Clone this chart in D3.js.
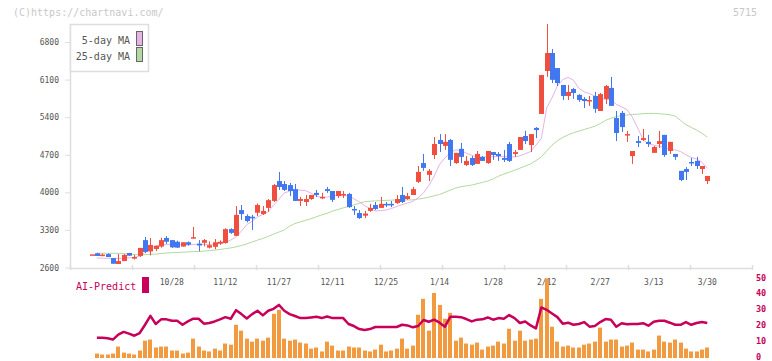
<!DOCTYPE html>
<html>
<head>
<meta charset="utf-8">
<script src="https://cdn.jsdelivr.net/npm/d3@7"></script>
<style>
  body { margin: 0; background: #fff; }
  svg { display: block; }
  text { font-family: "DejaVu Sans Mono", monospace; }
</style>
</head>
<body>
<svg width="772" height="361"></svg>
<script>
// Daily prices (yen), one entry per trading day
const OPEN = [2845,2865,2825,2850,2775,2665,2720,2870,2765,2815,3110,2900,2945,2990,3150,3110,3080,2990,3070,3145,
  3045,3060,2970,2985,3045,3055,3315,3190,3670,3560,3545,3620,3595,3710,3840,4210,4155,4135,4060,3840,
  3820,3875,3990,3895,4060,4025,3930,3950,3970,3690,3615,3565,3655,3765,3710,3785,3785,3800,3950,3875,
  3950,4195,4545,4325,4695,4975,4865,4975,4545,4810,4510,4640,4530,4660,4545,4750,4715,4640,4900,4715,
  4790,5050,4880,5200,5460,6260,6595,6315,6000,5795,5925,5815,5740,5700,5795,5515,5740,5945,5385,5480,
  5070,4675,4955,4975,4940,4735,4900,5070,4770,4715,4400,4435,4565,4585,4435,4210];
const HIGH = [2845,2875,2860,2865,2775,2850,2850,2870,2835,2965,3170,3150,3005,3155,3185,3110,3100,3070,3085,3355,
  3110,3130,3085,3130,3105,3330,3330,3745,3765,3590,3580,3795,3745,3875,4155,4380,4210,4175,4155,3915,
  3950,3950,4045,3990,4100,4025,4025,4025,3990,3745,3670,3655,3785,3820,3915,3820,3840,3950,4100,3990,
  4100,4490,4715,4435,5030,5085,5085,4995,4735,4920,4675,4675,4770,4675,4770,4750,4750,4790,4940,4790,
  5030,5145,5085,5215,6185,7135,6670,6315,6000,6000,5945,5830,5775,5795,5870,5850,6000,6150,5515,5515,
  5145,4770,5050,5180,5070,4865,5145,5070,4940,4715,4400,4470,4640,4660,4490,4305];
const LOW = [2845,2815,2810,2795,2670,2665,2720,2820,2750,2795,2870,2825,2905,2970,3040,2965,2965,2990,3005,3140,
  2900,2995,2955,2940,3020,3045,3225,3185,3485,3440,3300,3560,3580,3635,3820,4045,4025,3930,3840,3745,
  3745,3860,3915,3875,3990,3820,3895,3895,3710,3580,3505,3520,3635,3670,3710,3725,3725,3785,3800,3860,
  3950,4175,4400,4210,4620,4750,4790,4490,4530,4545,4490,4490,4530,4585,4530,4605,4585,4565,4565,4660,
  4790,4900,4750,5010,5460,6150,6035,5980,5720,5720,5740,5685,5570,5610,5480,5515,5645,5610,4955,5125,
  4940,4530,4845,4955,4845,4735,4825,4660,4715,4605,4210,4230,4490,4435,4340,4155];
const CLOSE = [2845,2815,2840,2795,2670,2720,2835,2820,2795,2965,2890,3020,3005,3110,3080,2975,2970,3070,3025,3165,
  3010,3110,3015,3070,3080,3315,3245,3580,3595,3465,3515,3765,3655,3855,4135,4100,4045,4025,3840,3875,
  3875,3950,3950,3915,4025,3860,4025,3970,3725,3670,3520,3605,3710,3690,3785,3765,3765,3875,3820,3930,
  4060,4380,4455,4400,4900,4900,4940,4605,4735,4660,4585,4510,4715,4585,4770,4695,4675,4605,4585,4750,
  5030,4955,5085,5160,6185,6595,6095,6035,5795,5870,5850,5720,5700,5720,5555,5830,5980,5610,5105,5215,
  5085,4770,4920,5010,4900,4845,4955,4695,4940,4660,4230,4380,4545,4490,4490,4305];

// Moving averages as drawn on the chart
const MA5 = [null,2775,2775,2770,2770,2770,2775,2780,2790,2810,2880,2960,3000,3020,3030,3030,3025,3025,3020,3030,
  3030,3030,3030,3035,3050,3070,3110,3170,3280,3400,3460,3540,3590,3640,3760,3870,3990,4020,4040,4040,
  4030,3985,3925,3910,3910,3930,3950,3945,3930,3880,3825,3750,3700,3655,3660,3670,3700,3735,3770,3800,
  3830,3900,3990,4130,4300,4520,4640,4740,4790,4780,4730,4690,4660,4655,4660,4665,4665,4665,4660,4660,
  4680,4720,4760,4880,5000,5570,5760,5980,6100,6140,6090,5940,5870,5840,5790,5760,5730,5730,5640,5590,
  5540,5400,5200,4980,4900,4880,4860,4830,4800,4790,4760,4700,4650,4620,4560,4450];
const MA25 = [null,2865,2865,2865,2865,2865,2860,2850,2840,2840,2840,2845,2850,2860,2870,2875,2880,2885,2890,2895,
  2900,2905,2915,2925,2935,2950,2965,2985,3010,3040,3075,3110,3140,3180,3220,3260,3300,3370,3420,3450,
  3480,3510,3545,3580,3610,3650,3680,3710,3735,3765,3795,3825,3835,3840,3845,3850,3855,3858,3858,3858,
  3860,3875,3890,3910,3935,3960,4000,4040,4080,4105,4120,4135,4160,4185,4210,4250,4300,4340,4375,4410,
  4450,4490,4530,4590,4660,4770,4880,4960,5020,5070,5110,5140,5170,5200,5230,5280,5340,5380,5410,5430,
  5440,5450,5455,5465,5470,5470,5465,5455,5445,5420,5340,5260,5210,5160,5100,5030];

// Lower panel (0-50 scale): volume bars and AI-Predict line
const VOLUME = [null,2.8,2.2,2.2,2.8,7.2,3.4,2.8,2.2,4.7,10.9,11.6,6.6,7.2,7.2,4.7,4.7,2.8,3.4,12.2,
  7.2,4.7,4.1,5.9,4.7,9.1,8.4,20.9,17.2,12.2,10.3,12.2,10.9,12.8,27.8,30.3,12.2,10.9,11.6,9.7,
  9.1,5.9,6.6,4.1,10.3,7.8,4.7,4.7,7.2,6.6,6.6,4.7,4.1,5.3,8.4,4.1,4.7,5.9,12.2,5.9,
  7.8,27.2,37.2,17.2,40.9,33.4,24.7,28.4,10.9,12.8,9.1,8.4,9.7,5.3,7.2,7.8,10.3,9.1,18.4,10.9,
  17.2,10.9,11.6,12.2,37.2,50,19.7,10.3,7.2,7.8,6.6,6.6,8.4,9.1,10.3,19.1,10.3,11.6,11.6,7.2,
  7.8,9.7,5.3,5.3,4.1,5.3,14.1,10.3,9.7,11.6,9.7,5.9,4.1,4.1,5.3,6.6];
const AI_PREDICT = [null,12.8,12.8,12.4,11.6,14.7,16.4,15.3,14.0,15.7,20.9,26.5,21.4,24.3,24.3,23.4,23.4,20.9,23.0,24.7,
  24.7,21.6,22.0,23.0,24.3,25.7,24.7,30.1,27.6,24.9,27.6,29.7,26.8,29.7,30.9,33.4,29.7,27.6,26.4,25.1,
  25.1,25.5,25.9,25.1,26.1,25.1,25.1,25.1,21.4,20.1,18.2,17.6,18.2,19.5,19.5,19.5,19.5,19.5,20.9,20.5,
  19.3,20.1,23.9,22.8,24.1,22.2,19.7,25.9,25.9,25.7,24.5,23.0,24.1,24.3,25.5,24.1,25.1,24.7,27.0,25.1,
  22.0,23.0,20.5,18.6,31.8,30.3,28.0,25.7,21.6,22.2,20.9,21.4,22.6,19.7,20.1,22.6,24.5,24.1,19.7,21.9,
  21.2,21.4,21.4,21.9,20.3,22.8,23.4,23.4,22.2,20.9,20.9,22.6,20.9,22.0,22.6,22.0];

// Axis labels
const DATE_LABELS = ["10/28","11/12","11/27","12/11","12/25","1/14","1/28","2/12","2/27","3/13","3/30"];
const DATE_INDEX = [15,25,35,45,55,65,75,85,95,105,115];
const PRICE_TICKS = [2600,3300,4000,4700,5400,6100,6800];
const SUB_TICKS = [0,10,20,30,40,50];

// Colours
const RED = "#f04f40";
const BLUE = "#4278ef";
const PINK = "#e6b3e6";
const GREEN = "#b3d9a1";
const MAGENTA = "#c8005a";
const ORANGE = "#f29a40";
const AXIS = "#dedede";

const svg = d3.select("svg");

// Scales
const x = d3.scaleLinear().domain([0, OPEN.length - 1]).range([91.5, 707.3]);
const y = d3.scaleLinear().domain([2600, 6800]).range([267.5, 42]);
const ySub = d3.scaleLinear().domain([0, 50]).range([358, 278.5]);
const xGrid = d3.scaleLinear().domain([0, 11]).range([70, 752]);

// Header texts
svg.append("text").attr("x", 13).attr("y", 15.5)
    .attr("font-size", 10).attr("fill", "#c8c8c8")
    .text("(C)https://chartnavi.com/");
svg.append("text").attr("x", 757).attr("y", 15.5)
    .attr("font-size", 10).attr("fill", "#c8c8c8").attr("text-anchor", "end")
    .text("5715");

// Left price axis
const yAxis = svg.append("g")
    .attr("transform", "translate(70,0)")
    .call(d3.axisLeft(y).tickValues(PRICE_TICKS).tickFormat(d3.format("d"))
        .tickSize(5).tickPadding(6));
yAxis.select(".domain").remove();
yAxis.selectAll("line").attr("stroke", AXIS);
yAxis.selectAll("text").attr("font-size", 8).attr("fill", "#555")
    .attr("font-family", "DejaVu Sans Mono, monospace");

svg.append("line")
    .attr("x1", 70.5).attr("x2", 70.5).attr("y1", 24).attr("y2", 268.5)
    .attr("stroke", AXIS).attr("stroke-width", 1.5);

// Bottom axis line with evenly spaced ticks
svg.append("line")
    .attr("x1", 70).attr("x2", 752).attr("y1", 268.5).attr("y2", 268.5)
    .attr("stroke", AXIS).attr("stroke-width", 1.5);
const xAxis = svg.append("g")
    .attr("transform", "translate(0,265)")
    .call(d3.axisBottom(xGrid).ticks(11).tickSize(5).tickFormat(""));
xAxis.select(".domain").remove();
xAxis.selectAll("line").attr("stroke", AXIS).attr("stroke-width", 1.5);

// Date labels under the candles
svg.append("g").selectAll("text")
    .data(DATE_LABELS)
    .join("text")
    .attr("x", (d, i) => x(DATE_INDEX[i]))
    .attr("y", 285)
    .attr("text-anchor", "middle")
    .attr("font-size", 8)
    .attr("fill", "#555")
    .text(d => d);

// Moving averages (behind candles)
const maLine = d3.line()
    .defined(d => d != null)
    .x((d, i) => x(i))
    .y(d => y(d));
svg.append("path").datum(MA25)
    .attr("fill", "none").attr("stroke", GREEN).attr("stroke-width", 1)
    .attr("d", maLine);
svg.append("path").datum(MA5)
    .attr("fill", "none").attr("stroke", PINK).attr("stroke-width", 1)
    .attr("d", maLine);

// Candles
const candles = OPEN.map((o, i) => ({ i, o, h: HIGH[i], l: LOW[i], c: CLOSE[i] }));
const colour = d => d.c >= d.o ? RED : BLUE;
const cg = svg.append("g").attr("class", "candles");
cg.selectAll("line")
    .data(candles)
    .join("line")
    .attr("x1", d => Math.round(x(d.i)) + 0.5)
    .attr("x2", d => Math.round(x(d.i)) + 0.5)
    .attr("y1", d => y(d.h))
    .attr("y2", d => y(d.l))
    .attr("stroke", colour)
    .attr("stroke-width", 1);
cg.selectAll("rect")
    .data(candles)
    .join("rect")
    .attr("x", d => Math.round(x(d.i)) - 2)
    .attr("width", 5)
    .attr("y", d => y(Math.max(d.o, d.c)))
    .attr("height", d => Math.max(1.5, Math.abs(y(d.o) - y(d.c))))
    .attr("fill", colour);

// Legend
const legend = svg.append("g");
legend.append("rect")
    .attr("x", 70.5).attr("y", 24.5).attr("width", 78).attr("height", 47)
    .attr("fill", "#fff").attr("stroke", AXIS).attr("stroke-width", 1.5);
[["5-day MA", PINK], ["25-day MA", GREEN]].forEach(([label, col], i) => {
    legend.append("text")
        .attr("x", 130).attr("y", 43.5 + i * 16)
        .attr("text-anchor", "end").attr("font-size", 10).attr("fill", "#555")
        .text(label);
    legend.append("rect")
        .attr("x", 136.5).attr("y", 31.5 + i * 16).attr("width", 6).attr("height", 14)
        .attr("fill", col).attr("stroke", "#666").attr("stroke-width", 1);
});

// Lower panel: AI-Predict legend
svg.append("text").attr("x", 76).attr("y", 289.5)
    .attr("font-size", 10).attr("fill", MAGENTA)
    .text("AI-Predict");
svg.append("rect").attr("x", 142).attr("y", 277).attr("width", 7).attr("height", 16)
    .attr("fill", MAGENTA);

// Right scale of the lower panel
svg.append("g").selectAll("text")
    .data(SUB_TICKS)
    .join("text")
    .attr("x", 756)
    .attr("y", d => ySub(d) + 2)
    .attr("font-size", 8.5)
    .attr("font-weight", "bold")
    .attr("fill", MAGENTA)
    .text(d => d);

// Volume bars
svg.append("g").selectAll("rect")
    .data(VOLUME.map((v, i) => ({ i, v })).filter(d => d.v != null))
    .join("rect")
    .attr("x", d => Math.round(x(d.i)) - 2)
    .attr("width", 4)
    .attr("y", d => ySub(d.v))
    .attr("height", d => ySub(0) - ySub(d.v))
    .attr("fill", ORANGE);

// AI-Predict line
svg.append("path").datum(AI_PREDICT)
    .attr("fill", "none").attr("stroke", MAGENTA).attr("stroke-width", 2.5)
    .attr("stroke-linejoin", "round")
    .attr("d", d3.line().defined(d => d != null).x((d, i) => x(i)).y(d => ySub(d)));
</script>
</body>
</html>
